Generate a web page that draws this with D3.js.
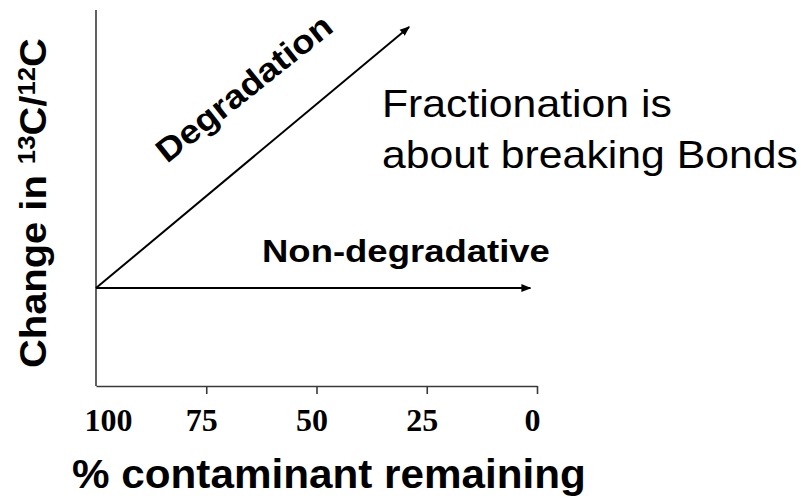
<!DOCTYPE html>
<html>
<head>
<meta charset="utf-8">
<script src="https://cdn.jsdelivr.net/npm/d3@7"></script>
<style>
  body { margin: 0; background: #fff; }
  svg { display: block; }
</style>
</head>
<body>
<svg id="chart" width="801" height="502"></svg>
<script>
// data
var xTicks = [100, 75, 50, 25, 0];
var degRemaining = [100, 29];
var degShift = [0, 1];
var nonRemaining = [100, 1.5];
var nonShift = [0, 0];

var svg = d3.select('#chart');
var x = d3.scaleLinear().domain([100, 0]).range([96, 537]);
var y = d3.scaleLinear().domain([-0.375, 1.065]).range([386, 10]);

// stretch text horizontally to a wanted width (picture looks stretched)
function fit(t, w) {
  var b = t.node().getBBox();
  var s = w / b.width;
  var ax = +t.attr('x');
  t.attr('transform', 'translate(' + ax + ',0) scale(' + s + ',1) translate(' + (-ax) + ',0)');
}

var defs = svg.append('defs');
defs.append('marker')
    .attr('id', 'arrow')
    .attr('viewBox', '0 0 10 10')
    .attr('refX', 9).attr('refY', 5)
    .attr('markerWidth', 5).attr('markerHeight', 5)
    .attr('markerUnits', 'strokeWidth')
    .attr('orient', 'auto')
  .append('path')
    .attr('d', 'M0,1 L10,5 L0,9 Z')
    .attr('fill', '#000');

// y axis line
svg.append('line')
    .attr('x1', x(100)).attr('x2', x(100))
    .attr('y1', y(1.065)).attr('y2', y(-0.375))
    .attr('stroke', '#3a3a3a').attr('stroke-width', 1.6);

// x axis
var xAxis = svg.append('g')
    .attr('transform', 'translate(0,' + y(-0.375) + ')')
    .call(d3.axisBottom(x).tickValues(xTicks).tickSize(8).tickSizeOuter(0).tickPadding(14));
xAxis.select('.domain').attr('stroke', '#3a3a3a').attr('stroke-width', 1.6);
xAxis.selectAll('.tick line').attr('stroke', '#3a3a3a').attr('stroke-width', 1.6)
    .attr('display', function(d) { return d === 100 ? 'none' : null; });
xAxis.selectAll('.tick text')
    .attr('font-family', '"Liberation Serif", "Times New Roman", serif')
    .attr('font-weight', 'bold')
    .attr('font-size', 32)
    .attr('fill', '#000')
    .attr('dy', '0.71em')
    .attr('x', function(d) { return d === 100 ? 12 : -5; });

var line = d3.line().x(function(d) { return x(d[0]); }).y(function(d) { return y(d[1]); });

svg.append('path')
    .datum(d3.zip(degRemaining, degShift))
    .attr('d', line)
    .attr('fill', 'none').attr('stroke', '#000').attr('stroke-width', 2)
    .attr('marker-end', 'url(#arrow)');

svg.append('path')
    .datum(d3.zip(nonRemaining, nonShift))
    .attr('d', line)
    .attr('fill', 'none').attr('stroke', '#000').attr('stroke-width', 2)
    .attr('marker-end', 'url(#arrow)');

var sans = '"Liberation Sans", Arial, sans-serif';

// x title
var xt = svg.append('text')
    .attr('x', 72).attr('y', 488)
    .attr('font-family', sans).attr('font-weight', 'bold').attr('font-size', 40)
    .text('% contaminant remaining');
fit(xt, 514);

// y title
var yt = svg.append('text')
    .attr('x', 0).attr('y', 0)
    .attr('font-family', sans).attr('font-weight', 'bold').attr('font-size', 34);
yt.append('tspan').text('Change in ');
yt.append('tspan').attr('font-size', 22).attr('dy', -10).text('13');
yt.append('tspan').attr('dy', 10).text('C/');
yt.append('tspan').attr('font-size', 22).attr('dy', -10).text('12');
yt.append('tspan').attr('dy', 10).text('C');
(function() {
  var b = yt.node().getBBox();
  var s = 330 / b.width;
  yt.attr('transform', 'translate(46,368) rotate(-90) scale(' + s + ',1.1)');
})();

// Degradation label
var dg = svg.append('text')
    .attr('x', 0).attr('y', 0)
    .attr('font-family', sans).attr('font-weight', 'bold').attr('font-size', 33)
    .text('Degradation');
(function() {
  var b = dg.node().getBBox();
  var s = 215 / b.width;
  dg.attr('transform', 'translate(167,164) rotate(-38.5) scale(' + s + ',1)');
})();

// Non-degradative label
var nd = svg.append('text')
    .attr('x', 262).attr('y', 262)
    .attr('font-family', sans).attr('font-weight', 'bold').attr('font-size', 32)
    .text('Non-degradative');
fit(nd, 288);

// annotation
var l1 = svg.append('text')
    .attr('x', 382).attr('y', 117)
    .attr('font-family', sans).attr('font-size', 38)
    .text('Fractionation is');
var l2 = svg.append('text')
    .attr('x', 382).attr('y', 168)
    .attr('font-family', sans).attr('font-size', 38)
    .text('about breaking Bonds');
var s2 = 416 / l2.node().getBBox().width;
fit(l2, 416);
fit(l1, l1.node().getBBox().width * s2);
</script>
</body>
</html>
